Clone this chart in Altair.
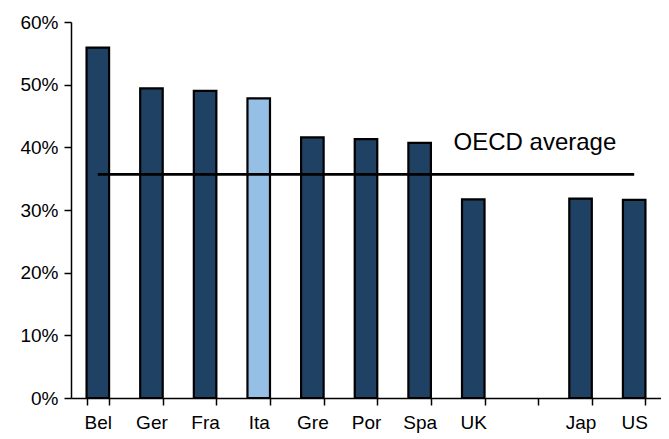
import altair as alt
import pandas as pd

countries = ["Bel", "Ger", "Fra", "Ita", "Gre", "Por", "Spa", "UK", " ", "Jap", "US"]
values = [0.559, 0.494, 0.490, 0.478, 0.416, 0.413, 0.407, 0.317, None, 0.318, 0.316]
highlight = ["Ita"]
oecd_avg = 0.357
oecd_label = "OECD average"
oecd_label_pos = 0.407

FONT = "Liberation Sans, Arial"
DARK = "#1f4164"
LIGHT = "#96bfe5"

bars_df = pd.DataFrame({
    "country": [c for c, v in zip(countries, values) if v is not None],
    "value": [v for v in values if v is not None],
})
bars_df["group"] = ["hi" if c in highlight else "base" for c in bars_df["country"]]

x_scale = alt.Scale(domain=countries, paddingInner=0.58, paddingOuter=0.29)
y_scale = alt.Scale(domain=[0, 0.6])

bars = alt.Chart(bars_df).mark_bar(stroke="black", strokeWidth=2.2).encode(
    x=alt.X("country:N", scale=x_scale, sort=countries,
            axis=alt.Axis(title=None, labelAngle=0, tickBand="extent", tickSize=7,
                          domainColor="black", tickColor="black", domainWidth=1.5, tickWidth=1.5,
                          labelFont=FONT, labelFontSize=19, labelColor="black", labelPadding=8)),
    y=alt.Y("value:Q", scale=y_scale,
            axis=alt.Axis(title=None, format=".0%", values=[0, 0.1, 0.2, 0.3, 0.4, 0.5, 0.6],
                          grid=False, tickSize=7, domainColor="black", tickColor="black",
                          domainWidth=1.5, tickWidth=1.5,
                          labelFont=FONT, labelFontSize=19, labelColor="black", labelPadding=6)),
    color=alt.Color("group:N", scale=alt.Scale(domain=["base", "hi"], range=[DARK, LIGHT]), legend=None),
)

rule_df = pd.DataFrame({"start": [countries[0]], "end": [countries[-1]], "avg": [oecd_avg]})
rule = alt.Chart(rule_df).mark_rule(color="black", strokeWidth=2.8).encode(
    x=alt.X("start:N", scale=x_scale),
    x2="end:N",
    y=alt.Y("avg:Q", scale=y_scale),
)

text_df = pd.DataFrame({"pos": [countries[8]], "y": [oecd_label_pos], "label": [oecd_label]})
text = alt.Chart(text_df).mark_text(font=FONT, fontSize=24, color="black", align="center",
                                    baseline="middle", dx=8).encode(
    x=alt.X("pos:N", scale=x_scale),
    y=alt.Y("y:Q", scale=y_scale),
    text="label:N",
)

chart = alt.layer(bars, rule, text).properties(
    width=590, height=376,
    autosize=alt.AutoSizeParams(type="none"),
    padding={"left": 63, "top": 14, "right": 0, "bottom": 41},
).configure_view(stroke=None)

chart.save("out.html", embed_options={"renderer": "svg", "actions": False})
